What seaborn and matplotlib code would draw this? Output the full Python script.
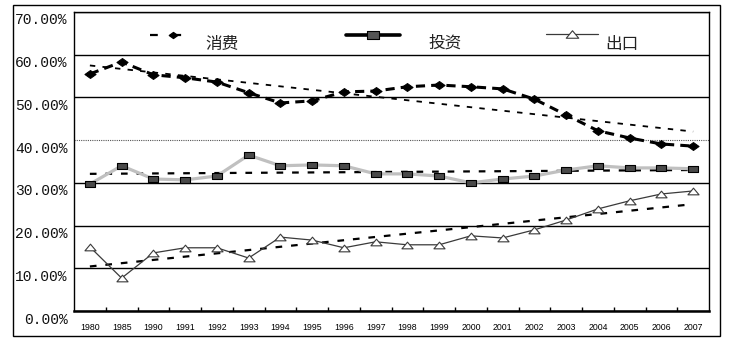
import numpy as np
import matplotlib
matplotlib.use("Agg")
import matplotlib.pyplot as plt
import seaborn as sns
from matplotlib.lines import Line2D
from matplotlib.patches import Rectangle
from matplotlib.path import Path
from matplotlib.transforms import ScaledTranslation
from matplotlib.ticker import FuncFormatter, FixedLocator

# ---- data (percent of GDP growth contribution) ----
years = ["1980", "1985", "1990", "1991", "1992", "1993", "1994", "1995", "1996", "1997",
         "1998", "1999", "2000", "2001", "2002", "2003", "2004", "2005", "2006", "2007"]
consumption = [55.5, 58.3, 55.3, 54.6, 53.6, 51.1, 48.7, 49.2, 51.3, 51.5,
               52.5, 52.9, 52.5, 52.0, 49.6, 45.9, 42.2, 40.5, 39.1, 38.6]
investment = [29.7, 34.0, 30.9, 30.7, 31.6, 36.5, 34.0, 34.2, 34.0, 32.1,
              32.1, 31.6, 30.0, 30.9, 31.6, 33.0, 34.0, 33.5, 33.5, 33.3]
exports = [15.0, 7.7, 13.6, 14.8, 14.8, 12.4, 17.3, 16.6, 14.8, 16.2,
           15.5, 15.5, 17.6, 17.1, 19.0, 21.3, 23.9, 25.8, 27.4, 28.1]
series_names = ["消费", "投资", "出口"]
y_ticks = [0, 10, 20, 30, 40, 50, 60, 70]

sns.set_theme(style="white")
plt.rcParams["font.family"] = ["Noto Sans CJK SC", "DejaVu Sans"]

W, H = 733, 346
fig = plt.figure(figsize=(W / 100, H / 100), dpi=100)
ax = fig.add_axes([74 / W, 35 / H, 635 / W, 299 / H])

idx = np.arange(len(years))

# wide marker shapes
diamond = Path([(-1.4, 0), (0, 1), (1.4, 0), (0, -1), (-1.4, 0)],
               [Path.MOVETO, Path.LINETO, Path.LINETO, Path.LINETO, Path.CLOSEPOLY])
rect = Path([(-1.5, -1), (1.5, -1), (1.5, 1), (-1.5, 1), (-1.5, -1)],
            [Path.MOVETO, Path.LINETO, Path.LINETO, Path.LINETO, Path.CLOSEPOLY])
tri = Path([(-1, -0.6), (1, -0.6), (0, 0.6), (-1, -0.6)],
           [Path.MOVETO, Path.LINETO, Path.LINETO, Path.CLOSEPOLY])

# linear trend lines
trend_kw = dict(scatter=False, ci=None, ax=ax, truncate=True)
sns.regplot(x=idx, y=consumption,
            line_kws=dict(color="black", lw=1.3, linestyle=(0, (3, 4)), zorder=3), **trend_kw)
sns.regplot(x=idx, y=investment,
            line_kws=dict(color="black", lw=1.6, linestyle=(0, (3, 4)), zorder=3), **trend_kw)
sns.regplot(x=idx, y=exports,
            line_kws=dict(color="black", lw=1.6, linestyle=(0, (3, 4)), zorder=3), **trend_kw)

# data series
sns.lineplot(x=idx, y=consumption, ax=ax, color="black", lw=2.2,
             linestyle=(0, (3, 2)), marker=diamond, markersize=8,
             markerfacecolor="black", markeredgecolor="black", zorder=5)
sns.lineplot(x=idx, y=investment, ax=ax, color="#c0c0c0", lw=2.3,
             marker=rect, markersize=7.5, markerfacecolor="#4a4a4a",
             markeredgecolor="black", markeredgewidth=0.8, zorder=5)
sns.lineplot(x=idx, y=exports, ax=ax, color="#3a3a3a", lw=0.9,
             marker=tri, markersize=8, markerfacecolor="white",
             markeredgecolor="#3a3a3a", markeredgewidth=0.8, zorder=5)

# axes
ax.set_xlim(-0.5, len(years) - 0.5)
ax.set_ylim(0, 70)
ax.set_xlabel("")
ax.set_ylabel("")
ax.set_yticks(y_ticks)
ax.yaxis.set_major_formatter(FuncFormatter(lambda v, _: f"{v:.2f}%"))
ax.set_xticks(idx)
ax.set_xticklabels(years)
ax.xaxis.set_minor_locator(FixedLocator(idx[:-1] + 0.5))

ax.grid(axis="y", color="black", lw=1.0, zorder=0)
ax.set_axisbelow(True)
grid_lines = ax.yaxis.get_gridlines()
grid_lines[4].set_linestyle((0, (1, 1)))
grid_lines[4].set_color("#555555")
grid_lines[4].set_linewidth(0.8)

for s in ["left", "right", "top"]:
    ax.spines[s].set_color("black")
    ax.spines[s].set_linewidth(1.0)
ax.spines["bottom"].set_color("black")
ax.spines["bottom"].set_linewidth(1.8)

ax.tick_params(axis="y", length=0, pad=4.5, labelsize=10.5, labelcolor="#111111")
ax.tick_params(axis="x", which="major", length=0, pad=9, labelsize=6.3, labelcolor="black")
ax.tick_params(axis="x", which="minor", direction="in", length=3, width=1, color="black", bottom=True)
for lab in ax.get_yticklabels():
    lab.set_fontfamily("Liberation Mono")
    lab.set_transform(lab.get_transform() + ScaledTranslation(0, -7 / 100, fig.dpi_scale_trans))
for lab in ax.get_xticklabels():
    lab.set_fontfamily("Liberation Sans")

# legend entries
handles = [
    Line2D([], [], color="black", lw=1.6, linestyle=(0, (3.5, 7)), marker=diamond,
           markersize=6, markerfacecolor="black", markeredgecolor="black"),
    Line2D([], [], color="black", lw=2.6, marker=rect, markersize=8,
           markerfacecolor="#555555", markeredgecolor="black", markeredgewidth=0.8),
    Line2D([], [], color="#3a3a3a", lw=0.9, marker=tri, markersize=9,
           markerfacecolor="white", markeredgecolor="#3a3a3a", markeredgewidth=0.8),
]
fs = 12
fs_px = fs * 100 / 72
spots = [  # (handle left px, handle centre y px, handle length px, text gap px, text drop px)
    (150, 36, 45, 10, 8),
    (346, 36, 54, 28, 7),
    (546, 35, 52, 7, 10),
]
for h, name, (xl, yc, hl, gap, drop) in zip(handles, series_names, spots):
    leg = fig.legend([h], [name], loc="center left", bbox_to_anchor=(xl / W, 1 - yc / H),
                     bbox_transform=fig.transFigure, frameon=False, borderpad=0,
                     borderaxespad=0, handlelength=hl / fs_px, handletextpad=gap / fs_px,
                     numpoints=1, prop={"size": fs, "family": ["Noto Sans CJK SC"]})
    for t in leg.get_texts():
        t.set_color("#222222")
        t.set_transform(t.get_transform() + ScaledTranslation(0, -drop / 100, fig.dpi_scale_trans))

# chart frame
fig.patches.append(Rectangle((13 / W, 10 / H), 707 / W, 331 / H, transform=fig.transFigure,
                             fill=False, edgecolor="black", lw=1.0))

fig.savefig("out.png", dpi=100, facecolor="white")
